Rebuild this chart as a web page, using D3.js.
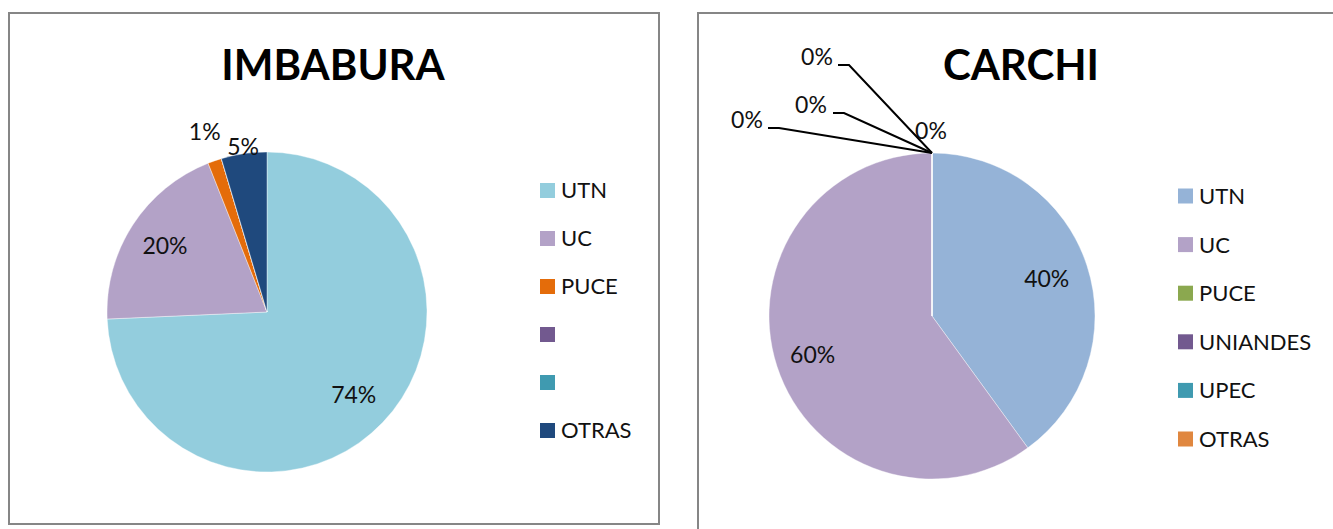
<!DOCTYPE html>
<html>
<head>
<meta charset="utf-8">
<script src="https://cdn.jsdelivr.net/npm/d3@7"></script>
<style>
  body { margin: 0; background: #fff; }
  svg { display: block; font-family: Lato, "Open Sans", sans-serif; }
</style>
</head>
<body>
<script>
// datos
const imbaburaCategories = ['UTN', 'UC', 'PUCE', '', '', 'OTRAS'];
const imbaburaValues     = [74.3, 19.7, 1.4, 0, 0, 4.6];
const imbaburaColors     = ['#93cddd', '#b3a2c7', '#e46c0a', '#72598f', '#3f9ab0', '#1f497d'];

const carchiCategories = ['UTN', 'UC', 'PUCE', 'UNIANDES', 'UPEC', 'OTRAS'];
const carchiValues     = [40, 60, 0, 0, 0, 0];
const carchiColors     = ['#95b3d7', '#b3a2c7', '#8ba84f', '#72598f', '#3f9ab0', '#e0873f'];

// layout de etiquetas (factor del radio) y etiquetas de 0% con guia
const imbaburaLabelR = [0.75, 0.76, 1.19, 0, 0, 1.04];
const carchiLabelR   = [0.74, 0.77, 0, 0, 0, 0];
const carchiZeroLabels = [   // posicion del texto y inicio de la guia, relativo al tope del pie
  {dx: -1,   dy: -22, lx: null},
  {dx: -121, dy: -48, lx: -99},
  {dx: -115, dy: -96, lx: -94},
  {dx: -185, dy: -33, lx: -164}
];

const W = 1333, H = 529;
const svg = d3.select('body').append('svg').attr('width', W).attr('height', H);

function drawPanel(opts){
  const g = svg.append('g');

  g.append('rect')
    .attr('x', opts.box[0]).attr('y', opts.box[1])
    .attr('width', opts.box[2]).attr('height', opts.box[3])
    .attr('fill', '#fff').attr('stroke', '#868686').attr('stroke-width', 2);

  g.append('text')
    .attr('x', opts.titleX).attr('y', 80)
    .attr('text-anchor', 'middle')
    .attr('font-size', 42).attr('font-weight', 'bold').attr('fill', '#000')
    .text(opts.title);

  const pie = d3.pie().sort(null).value(d => d)
    .startAngle(0).endAngle(2 * Math.PI);
  const arcs = pie(opts.values);
  const arc = d3.arc().innerRadius(0).outerRadius(opts.r);

  const pg = g.append('g').attr('transform', `translate(${opts.cx},${opts.cy})`);
  pg.selectAll('path.slice')
    .data(arcs)
    .join('path')
    .attr('class', 'slice')
    .attr('d', arc)
    .attr('fill', (d, i) => opts.colors[i])
    .attr('stroke', '#fff').attr('stroke-width', 0.4);

  const total = d3.sum(opts.values);
  pg.selectAll('text.lbl')
    .data(arcs.filter((d, i) => opts.labelR[i] > 0))
    .join('text')
    .attr('class', 'lbl')
    .attr('transform', d => {
      const rr = opts.r * opts.labelR[d.index];
      const c = d3.arc().innerRadius(rr).outerRadius(rr).centroid(d);
      return `translate(${c[0]},${c[1]})`;
    })
    .attr('text-anchor', 'middle').attr('dy', '0.35em')
    .attr('font-size', 23).attr('fill', '#111')
    .text(d => Math.round(d.value / total * 100) + '%');

  // leyenda
  const lg = g.append('g').attr('transform', `translate(${opts.legendX},${opts.legendY})`);
  const item = lg.selectAll('g.item')
    .data(opts.categories)
    .join('g')
    .attr('class', 'item')
    .attr('transform', (d, i) => `translate(0,${i * opts.legendStep})`);
  item.append('rect')
    .attr('x', 0).attr('y', -7.5).attr('width', 15).attr('height', 15)
    .attr('fill', (d, i) => opts.colors[i]);
  item.append('text')
    .attr('x', 21).attr('dy', '0.36em')
    .attr('font-size', 22).attr('fill', '#111')
    .text(d => d);

  return pg;
}

drawPanel({
  box: [9, 13, 650, 511], title: 'IMBABURA', titleX: 333,
  cx: 267, cy: 312, r: 160,
  values: imbaburaValues, colors: imbaburaColors, categories: imbaburaCategories,
  labelR: imbaburaLabelR,
  legendX: 540, legendY: 190.5, legendStep: 48
});

const carchi = drawPanel({
  box: [698, 13, 700, 600], title: 'CARCHI', titleX: 1021,
  cx: 932, cy: 316, r: 163,
  values: carchiValues, colors: carchiColors, categories: carchiCategories,
  labelR: carchiLabelR,
  legendX: 1178, legendY: 196, legendStep: 48.6
});

// etiquetas 0% con lineas guia (tope del pie)
const pieTop = d3.arc().innerRadius(163).outerRadius(163).centroid({startAngle: 0, endAngle: 0});
const zeroTotal = d3.sum(carchiValues);
carchiZeroLabels.forEach((l, i) => {
  const tx = pieTop[0] + l.dx, ty = pieTop[1] + l.dy;
  if (l.lx !== null) {
    const ex = pieTop[0] + l.lx;
    carchi.append('path')
      .attr('d', d3.line()([[ex, ty + 8], [ex + 11, ty + 8], pieTop]))
      .attr('fill', 'none').attr('stroke', '#000').attr('stroke-width', 2);
  }
  carchi.append('text')
    .attr('x', tx).attr('y', ty)
    .attr('text-anchor', 'middle').attr('dy', '0.35em')
    .attr('font-size', 23).attr('fill', '#111')
    .text(Math.round(carchiValues[2 + i] / zeroTotal * 100) + '%');
});
</script>
</body>
</html>
